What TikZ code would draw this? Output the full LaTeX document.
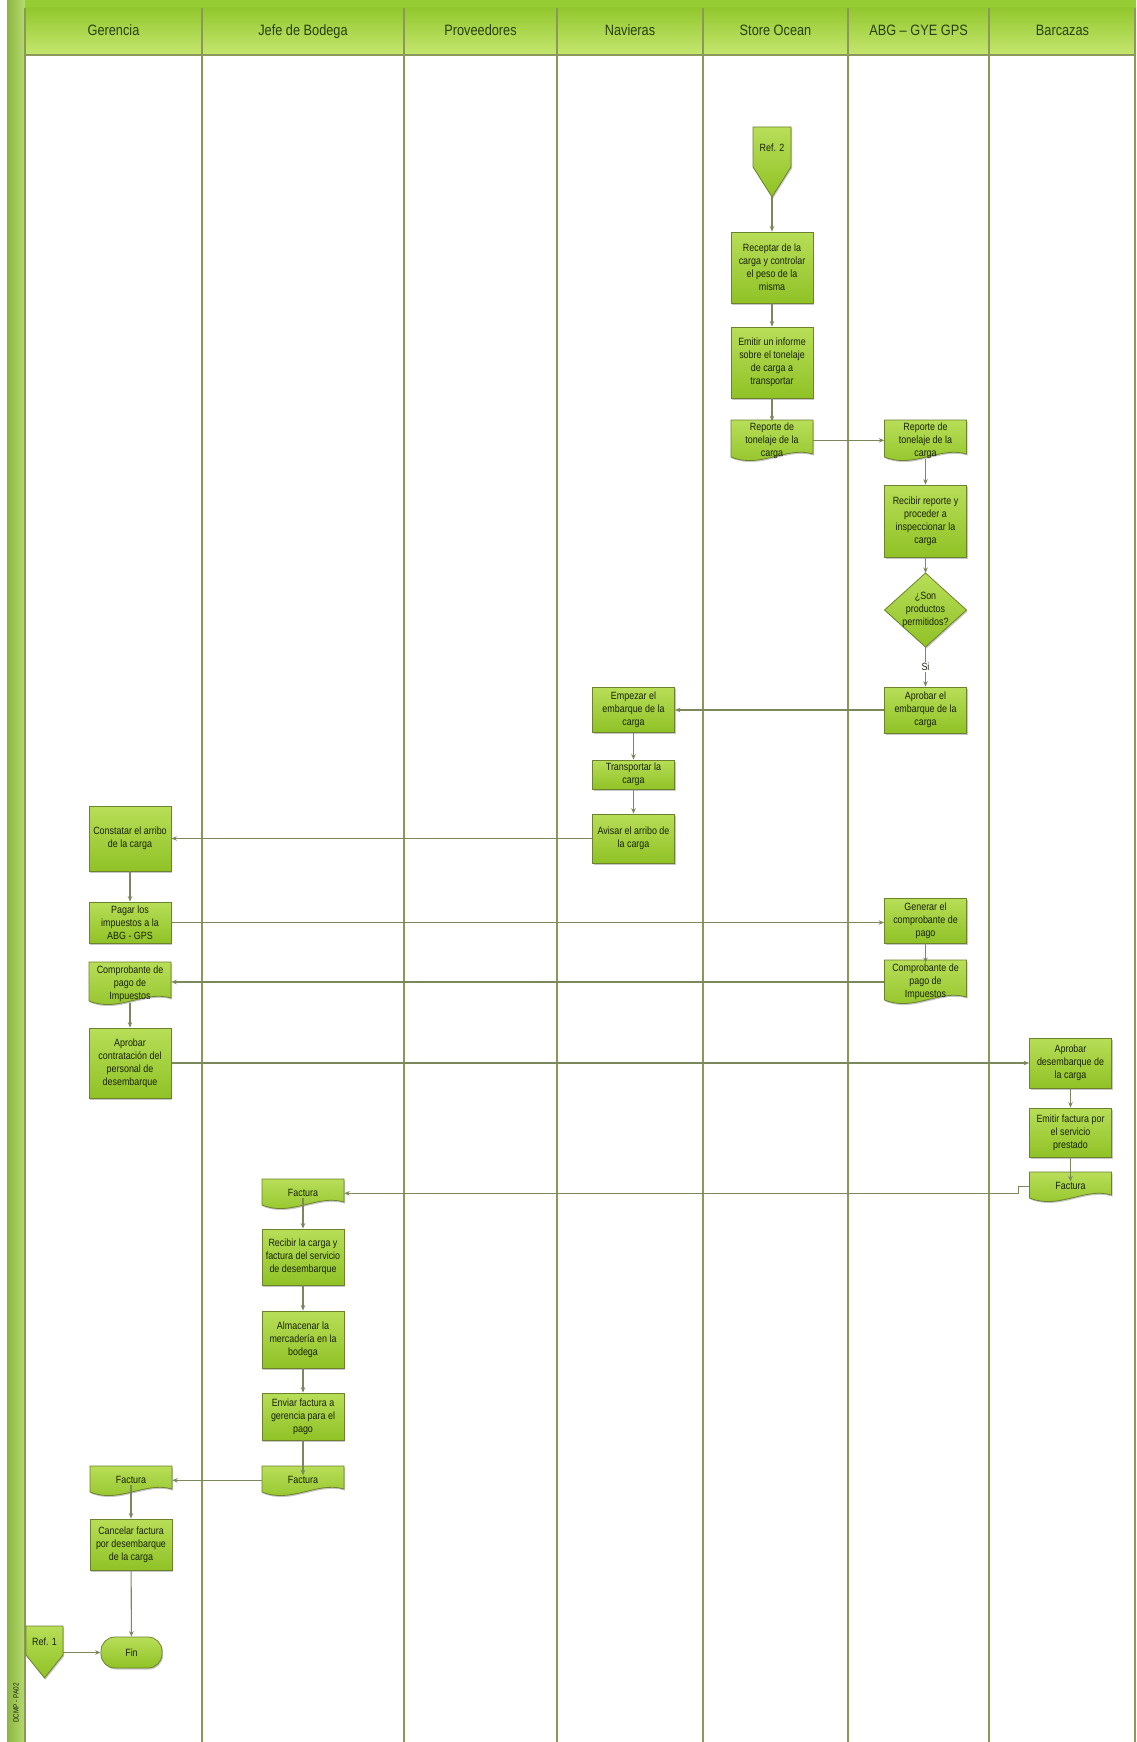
\documentclass[tikz,border=0pt]{standalone}
\usepackage{fontspec}
\setmainfont{Liberation Sans}[FakeStretch=0.85]
\usetikzlibrary{arrows.meta,shadows,calc}

\definecolor{boxtop}{RGB}{184,222,88}
\definecolor{boxbot}{RGB}{144,194,38}
\definecolor{boxline}{RGB}{108,130,44}
\definecolor{conn}{RGB}{122,136,92}
\definecolor{lane}{RGB}{138,152,88}
\definecolor{hdtop}{RGB}{146,200,46}
\definecolor{hdbot}{RGB}{198,230,112}
\definecolor{barc}{RGB}{150,204,52}
\definecolor{txt}{RGB}{24,34,10}
\definecolor{hdtxt}{RGB}{40,64,16}

\newcommand\bxfont{\fontsize{10.5}{13}\selectfont}
\newcommand\hdrfont{\fontsize{15}{17}\selectfont}

\newcommand\docnode[5]{%
  \pgfmathsetmacro\dxa{#2-41}%
  \pgfmathsetmacro\dxb{#2+41}%
  \pgfmathsetmacro\dca{#2+14}%
  \pgfmathsetmacro\dcb{#2-12}%
  \pgfmathsetmacro\dya{#4-3}%
  \pgfmathsetmacro\dyb{#4-11}%
  \pgfmathsetmacro\dyc{#4+12}%
  \pgfmathsetmacro\dym{#3+0.55*(#4-#3)}%
  \path[docfill] (\dxa,#3) -- (\dxb,#3) -- (\dxb,\dya) .. controls (\dca,\dyb) and (\dcb,\dyc) .. (\dxa,#4) -- cycle;
  \node[doctext] (#1) at (#2,\dym) {#5};
}

\begin{document}
\begin{tikzpicture}[x=1pt,y=-1pt,
  shad/.style={drop shadow={shadow xshift=1pt,shadow yshift=-1.5pt,fill=black,opacity=0.22}},
  proc/.style={draw=boxline,line width=0.8pt,top color=boxtop,bottom color=boxbot,minimum width=82pt,inner sep=1pt,align=center,font=\bxfont,text=txt,shad},
  docfill/.style={draw=boxline,line width=0.8pt,top color=boxtop,bottom color=boxbot,shad},
  doctext/.style={minimum width=82pt,inner sep=1pt,align=center,font=\bxfont,text=txt},
  flow/.style={draw=conn,line width=1.1pt,-{Stealth[length=5.5pt,width=4.5pt]}},
  lanel/.style={draw=lane,line width=1.8pt},
  hdr/.style={font=\hdrfont,text=hdtxt,anchor=base}
]
\useasboundingbox (0,0) rectangle (1136,1742);
\fill[white] (0,0) rectangle (1136,1742);

% frame
\fill[barc] (7,0) rectangle (1136,8);
\shade[left color=barc!85!black!90, right color=barc!70!white] (7,0) rectangle (25,1742);
\shade[top color=hdtop,bottom color=hdbot] (25,8) rectangle (1136,55);
\draw[lanel] (25,55) -- (1136,55);
\foreach \lx in {25,202,404,557,703,848,989,1135} {\draw[lanel] (\lx,8) -- (\lx,1742);}

% headers
\node[hdr] (hG) at (113.5,36) {Gerencia};
\node[hdr] (hJ) at (303,36) {Jefe de Bodega};
\node[hdr] (hP) at (480.5,36) {Proveedores};
\node[hdr] (hN) at (630,36) {Navieras};
\node[hdr] (hS) at (775.5,36) {Store Ocean};
\node[hdr] (hA) at (918.5,36) {ABG -- GYE GPS};
\node[hdr] (hB) at (1062.5,36) {Barcazas};
\node[rotate=90,font=\fontsize{7.5}{8}\selectfont,text=txt] (code) at (16,1703) {DCMP - PA02};

% Store Ocean
\path[docfill] (753,127) -- (791,127) -- (791,167) -- (772,197) -- (753,167) -- cycle;
\node[doctext,minimum width=38pt] (ref2) at (772,148) {Ref. 2};
\coordinate (ref2tip) at (772,197);
\node[proc,minimum height=71pt] (so1) at (772,267.5) {Receptar de la\\carga y controlar\\el peso de la\\misma};
\node[proc,minimum height=71pt] (so2) at (772,362.5) {Emitir un informe\\sobre el tonelaje\\de carga a\\transportar};
\docnode{so3}{772}{420}{457}{Reporte de\\tonelaje de la\\carga}

% ABG
\docnode{abg1}{925.5}{420}{457}{Reporte de\\tonelaje de la\\carga}
\node[proc,minimum height=72pt] (abg2) at (925.5,521) {Recibir reporte y\\proceder a\\inspeccionar la\\carga};
\path[docfill] (925.5,573) -- (966.5,610) -- (925.5,647) -- (884.5,610) -- cycle;
\node[doctext,minimum width=0pt] (abg3) at (925.5,610) {¿Son\\productos\\permitidos?};
\coordinate (abg3n) at (925.5,573);
\coordinate (abg3s) at (925.5,647);
\node[proc,minimum height=46pt] (abg4) at (925.5,710) {Aprobar el\\embarque de la\\carga};
\node[proc,minimum height=45pt] (abg5) at (925.5,920.5) {Generar el\\comprobante de\\pago};
\docnode{abg6}{925.5}{960}{1000}{Comprobante de\\pago de\\Impuestos}

% Navieras
\node[proc,minimum height=45pt] (nav1) at (633.5,710) {Empezar el\\embarque de la\\carga};
\node[proc,minimum height=29pt] (nav2) at (633.5,774.5) {Transportar la\\carga};
\node[proc,minimum height=49pt] (nav3) at (633.5,838.5) {Avisar el arribo de\\la carga};

% Gerencia
\node[proc,minimum height=65pt] (g1) at (130,838.5) {Constatar el arribo\\de la carga};
\node[proc,minimum height=41pt] (g2) at (130,922.5) {Pagar los\\impuestos a la\\ABG - GPS};
\docnode{g3}{130}{962}{1001}{Comprobante de\\pago de\\Impuestos}
\node[proc,minimum height=70pt] (g4) at (130,1063) {Aprobar\\contratación del\\personal de\\desembarque};
\docnode{g5}{131}{1466}{1492}{Factura}
\node[proc,minimum height=51pt] (g6) at (131,1544.5) {Cancelar factura\\por desembarque\\de la carga};
\node[proc,rounded corners=14pt,minimum width=61pt,minimum height=31pt] (fin) at (131.5,1652.5) {Fin};
\path[docfill] (26,1626) -- (63,1626) -- (63,1655) -- (44.5,1678) -- (26,1655) -- cycle;
\node[doctext,minimum width=37pt] (ref1) at (44.5,1642) {Ref. 1};

% Barcazas
\node[proc,minimum height=50pt] (b1) at (1070.5,1063) {Aprobar\\desembarque de\\la carga};
\node[proc,minimum height=49pt] (b2) at (1070.5,1132.5) {Emitir factura por\\el servicio\\prestado};
\docnode{b3}{1070.5}{1172}{1198}{Factura}

% Jefe de Bodega
\docnode{j1}{303}{1179}{1205}{Factura}
\node[proc,minimum height=56pt] (j2) at (303,1257) {Recibir la carga y\\factura del servicio\\de desembarque};
\node[proc,minimum height=57pt] (j3) at (303,1339.5) {Almacenar la\\mercadería en la\\bodega};
\node[proc,minimum height=47pt] (j4) at (303,1416.5) {Enviar factura a\\gerencia para el\\pago};
\docnode{j5}{303}{1466}{1492}{Factura}

% connectors
\draw[flow] (ref2tip) -- (so1);
\draw[flow] (so1) -- (so2);
\draw[flow] (so2) -- (so3.north);
\draw[flow] (so3.east) -- (so3.east -| abg1.west);
\draw[flow] (abg1.south) -- (abg2);
\draw[flow] (abg2) -- (abg3n);
\draw[flow] (abg3s) -- (abg4) node[midway,fill=white,inner sep=1pt,font=\bxfont,text=txt] (si) {Si};
\draw[flow] (abg4.west) -- (abg4.west -| nav1.east);
\draw[flow] (nav1) -- (nav2);
\draw[flow] (nav2) -- (nav3);
\draw[flow] (nav3.west) -- (nav3.west -| g1.east);
\draw[flow] (g1) -- (g2);
\draw[flow] (g2.east) -- (g2.east -| abg5.west);
\draw[flow] (abg5) -- (abg6.north);
\draw[flow] (abg6.west) -- (abg6.west -| g3.east);
\draw[flow] (g3.south) -- (g4);
\draw[flow] (g4.east) -- (g4.east -| b1.west);
\draw[flow] (b1) -- (b2);
\draw[flow] (b2) -- (b3.north);
\draw[flow] (b3.west) -- ++(-11,0) |- (j1.east);
\draw[flow] (j1.south) -- (j2);
\draw[flow] (j2) -- (j3);
\draw[flow] (j3) -- (j4);
\draw[flow] (j4) -- (j5.north);
\draw[flow] (j5.west) -- (j5.west -| g5.east);
\draw[flow] (g5.south) -- (g6);
\draw[flow] (g6) -- (fin);
\draw[flow] (ref1.east |- fin.west) -- (fin.west);
\end{tikzpicture}
\end{document}
